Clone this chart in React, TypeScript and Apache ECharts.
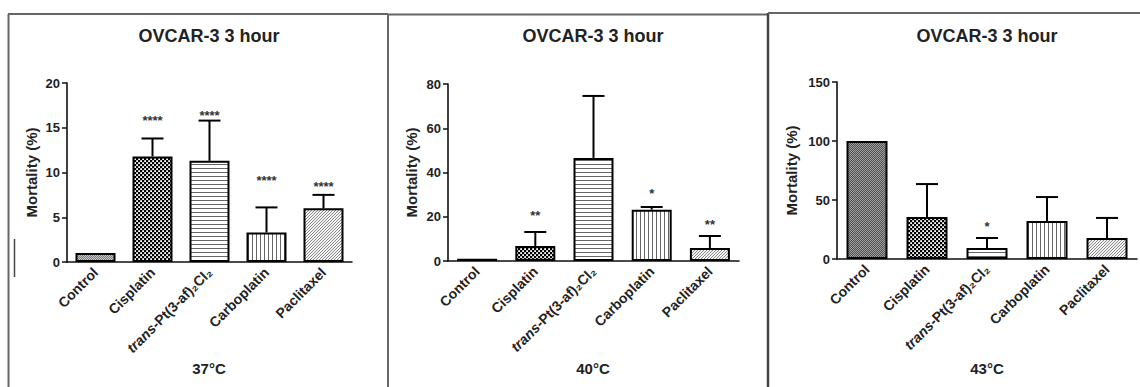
import React, { useEffect, useRef } from 'react';
import * as echarts from 'echarts';

const categories = ['Control', 'Cisplatin', 'trans-Pt(3-af)₂Cl₂', 'Carboplatin', 'Paclitaxel'];
const panelTitle = 'OVCAR-3 3 hour';
const temperatures = ['37°C', '40°C', '43°C'];
const yAxisName = 'Mortality (%)';

const mean37 = [1, 11.8, 11.3, 3.3, 6.0];
const sd37 = [0, 2.0, 4.5, 2.8, 1.5];
const stars37 = ['', '****', '****', '****', '****'];
const starAt37 = [0, 16.2, 16.7, 9.4, 8.8];

const mean40 = [1, 6.8, 46.6, 23.2, 5.9];
const sd40 = [0, 6.3, 28.0, 1.2, 5.4];
const stars40 = ['', '**', '', '*', '**'];
const starAt40 = [0, 21.7, 0, 32, 18];

const mean43 = [100, 35.5, 9.3, 32.2, 17.8];
const sd43 = [0, 28.0, 8.5, 20.3, 17.0];
const stars43 = ['', '', '*', '', ''];
const starAt43 = [0, 0, 29.7, 0, 0];

const yMaxes = [20, 80, 150];
const ySteps = [5, 20, 50];

const means = [mean37, mean40, mean43];
const sds = [sd37, sd40, sd43];
const starTexts = [stars37, stars40, stars43];
const starPositions = [starAt37, starAt40, starAt43];

const grids = [
  { left: 67, top: 83, width: 285, height: 179 },
  { left: 448, top: 84, width: 291, height: 177 },
  { left: 837, top: 82, width: 300, height: 177 },
];
const barWidths = [40, 40, 41];
const nameGaps = [28, 29, 38];
const titleX = [209, 593, 987];

function makePattern(w: number, h: number, draw: (ctx: CanvasRenderingContext2D) => void) {
  const c = document.createElement('canvas');
  c.width = w;
  c.height = h;
  const ctx = c.getContext('2d') as CanvasRenderingContext2D;
  draw(ctx);
  return { image: c, repeat: 'repeat' };
}

function buildPatterns() {
  const fineChecker = (bg: string, fg: string) =>
    makePattern(2, 2, (ctx) => {
      ctx.fillStyle = bg;
      ctx.fillRect(0, 0, 2, 2);
      ctx.fillStyle = fg;
      ctx.fillRect(0, 0, 1, 1);
      ctx.fillRect(1, 1, 1, 1);
    });
  const dots = makePattern(4, 4, (ctx) => {
    ctx.fillStyle = '#000';
    ctx.fillRect(0, 0, 4, 4);
    ctx.fillStyle = '#fff';
    ctx.fillRect(0.2, 0.2, 1.8, 1.8);
    ctx.fillRect(2.2, 2.2, 1.8, 1.8);
  });
  const hLines = makePattern(4, 4, (ctx) => {
    ctx.fillStyle = '#fff';
    ctx.fillRect(0, 0, 4, 4);
    ctx.fillStyle = '#666';
    ctx.fillRect(0, 0, 4, 1);
  });
  const vLines = makePattern(4, 4, (ctx) => {
    ctx.fillStyle = '#fff';
    ctx.fillRect(0, 0, 4, 4);
    ctx.fillStyle = '#666';
    ctx.fillRect(0, 0, 1, 4);
  });
  const diag = makePattern(3, 3, (ctx) => {
    ctx.fillStyle = '#f4f4f4';
    ctx.fillRect(0, 0, 3, 3);
    ctx.fillStyle = '#8a8a8a';
    for (let i = 0; i < 3; i++) ctx.fillRect(2 - i, i, 1, 1);
  });
  return {
    control: [fineChecker('#7e7e7e', '#c4c4c4'), '#ffffff', fineChecker('#555555', '#9a9a9a')],
    others: [dots, hLines, vLines, diag],
  };
}

export default function App() {
  const ref = useRef<HTMLDivElement>(null);

  useEffect(() => {
    document.body.style.margin = '0';
    if (!ref.current) return;
    const chart = echarts.init(ref.current, undefined, { renderer: 'svg' });
    const pats = buildPatterns();
    const textColor = '#222';
    const font = '"Liberation Sans", Arial, sans-serif';

    const xAxis: any[] = [];
    const yAxis: any[] = [];
    const series: any[] = [];

    for (let p = 0; p < 3; p++) {
      xAxis.push({
        type: 'category',
        gridIndex: p,
        data: categories,
        axisLine: { lineStyle: { color: '#111', width: 1.6 } },
        axisTick: { alignWithLabel: true, length: 4, lineStyle: { color: '#111', width: 1.5 } },
        axisLabel: {
          rotate: 45,
          margin: 8,
          interval: 0,
          color: textColor,
          fontWeight: 'bold',
          fontSize: 14,
          fontFamily: font,
          formatter: (v: string) => (v.startsWith('trans-') ? '{it|trans-}' + v.slice(6) : v),
          rich: { it: { fontStyle: 'italic', fontWeight: 'bold', fontSize: 14, fontFamily: font, color: textColor } },
        },
      });
      yAxis.push({
        type: 'value',
        gridIndex: p,
        min: 0,
        max: yMaxes[p],
        interval: ySteps[p],
        name: yAxisName,
        nameLocation: 'middle',
        nameGap: nameGaps[p],
        nameTextStyle: { color: textColor, fontWeight: 'bold', fontSize: 15, fontFamily: font },
        splitLine: { show: false },
        axisLine: { show: true, lineStyle: { color: '#111', width: 1.6 } },
        axisTick: { show: true, length: 5, lineStyle: { color: '#111', width: 1.5 } },
        axisLabel: { margin: 7, color: textColor, fontWeight: 'bold', fontSize: 13, fontFamily: font },
      });

      const m = means[p];
      const s = sds[p];
      series.push({
        type: 'bar',
        xAxisIndex: p,
        yAxisIndex: p,
        barWidth: barWidths[p],
        data: m.map((v, j) => ({
          value: v,
          itemStyle: {
            color: j === 0 ? pats.control[p] : pats.others[j - 1],
            borderColor: '#000',
            borderWidth: 2,
          },
        })),
        z: 2,
      });
      series.push({
        type: 'custom',
        xAxisIndex: p,
        yAxisIndex: p,
        z: 3,
        encode: { x: 0, y: 1 },
        data: m.map((v, j) => [j, v, s[j]]),
        renderItem: (params: any, api: any) => {
          const x = api.value(0);
          const mv = api.value(1);
          const sv = api.value(2);
          if (!sv) return null;
          const p0 = api.coord([x, mv]);
          const p1 = api.coord([x, mv + sv]);
          const st = { stroke: '#000', lineWidth: 2 };
          return {
            type: 'group',
            children: [
              { type: 'line', shape: { x1: p0[0], y1: p0[1], x2: p1[0], y2: p1[1] }, style: st },
              { type: 'line', shape: { x1: p1[0] - 11, y1: p1[1], x2: p1[0] + 11, y2: p1[1] }, style: st },
            ],
          };
        },
      });
      const stTxt = starTexts[p];
      const stPos = starPositions[p];
      series.push({
        type: 'custom',
        xAxisIndex: p,
        yAxisIndex: p,
        z: 4,
        encode: { x: 0, y: 1 },
        data: stPos.map((v, j) => [j, v]),
        renderItem: (params: any, api: any) => {
          const txt = stTxt[params.dataIndex];
          if (!txt) return null;
          const pt = api.coord([api.value(0), api.value(1)]);
          return {
            type: 'text',
            x: pt[0],
            y: pt[1] + 3,
            style: {
              text: txt,
              fill: '#333',
              font: 'bold 13px ' + font,
              textAlign: 'center',
              textVerticalAlign: 'middle',
            },
          };
        },
      });
    }

    const graphic: any[] = [];
    for (let p = 0; p < 3; p++) {
      graphic.push({
        type: 'text',
        x: titleX[p],
        y: 36,
        style: {
          text: panelTitle,
          fill: textColor,
          font: 'bold 18px ' + font,
          textAlign: 'center',
          textVerticalAlign: 'middle',
        },
      });
      graphic.push({
        type: 'text',
        x: titleX[p],
        y: 368,
        style: {
          text: temperatures[p],
          fill: textColor,
          font: 'bold 15px ' + font,
          textAlign: 'center',
          textVerticalAlign: 'middle',
        },
      });
    }
    const borderStyle = { stroke: '#666', lineWidth: 2 };
    graphic.push(
      { type: 'line', shape: { x1: 8.5, y1: 14, x2: 8.5, y2: 387 }, style: borderStyle },
      { type: 'line', shape: { x1: 8, y1: 14, x2: 388, y2: 14 }, style: borderStyle },
      { type: 'line', shape: { x1: 388, y1: 14.5, x2: 388, y2: 387 }, style: borderStyle },
      { type: 'line', shape: { x1: 388, y1: 14.5, x2: 768, y2: 14.5 }, style: borderStyle },
      { type: 'line', shape: { x1: 768, y1: 13, x2: 768, y2: 387 }, style: { stroke: '#444', lineWidth: 2.5 } },
      { type: 'line', shape: { x1: 768, y1: 13, x2: 1140, y2: 13 }, style: borderStyle },
      { type: 'line', shape: { x1: 14.5, y1: 239, x2: 14.5, y2: 277 }, style: { stroke: '#444', lineWidth: 1.5 } }
    );

    chart.setOption({
      animation: false,
      backgroundColor: '#fff',
      grid: grids.map((g) => ({ ...g, containLabel: false })),
      xAxis,
      yAxis,
      series,
      graphic,
    });

    return () => chart.dispose();
  }, []);

  return <div ref={ref} style={{ width: 1140, height: 387 }} />;
}
